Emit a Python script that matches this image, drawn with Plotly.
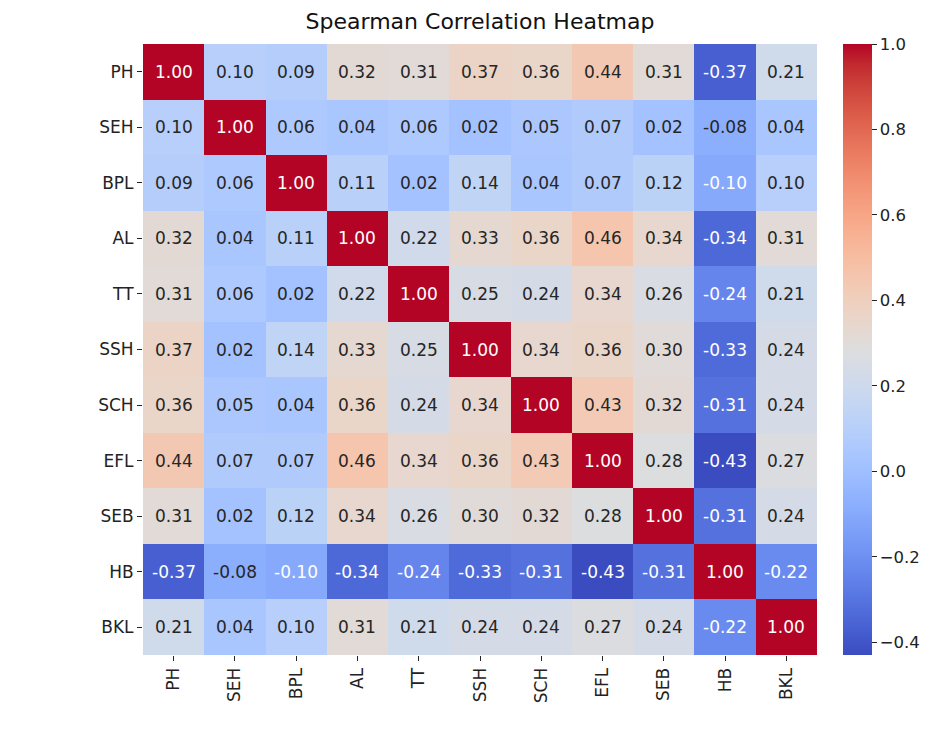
import plotly.graph_objects as go

labels = ["PH", "SEH", "BPL", "AL", "TT", "SSH", "SCH", "EFL", "SEB", "HB", "BKL"]

row_PH  = [1.00, 0.10, 0.09, 0.32, 0.31, 0.37, 0.36, 0.44, 0.31, -0.37, 0.21]
row_SEH = [0.10, 1.00, 0.06, 0.04, 0.06, 0.02, 0.05, 0.07, 0.02, -0.08, 0.04]
row_BPL = [0.09, 0.06, 1.00, 0.11, 0.02, 0.14, 0.04, 0.07, 0.12, -0.10, 0.10]
row_AL  = [0.32, 0.04, 0.11, 1.00, 0.22, 0.33, 0.36, 0.46, 0.34, -0.34, 0.31]
row_TT  = [0.31, 0.06, 0.02, 0.22, 1.00, 0.25, 0.24, 0.34, 0.26, -0.24, 0.21]
row_SSH = [0.37, 0.02, 0.14, 0.33, 0.25, 1.00, 0.34, 0.36, 0.30, -0.33, 0.24]
row_SCH = [0.36, 0.05, 0.04, 0.36, 0.24, 0.34, 1.00, 0.43, 0.32, -0.31, 0.24]
row_EFL = [0.44, 0.07, 0.07, 0.46, 0.34, 0.36, 0.43, 1.00, 0.28, -0.43, 0.27]
row_SEB = [0.31, 0.02, 0.12, 0.34, 0.26, 0.30, 0.32, 0.28, 1.00, -0.31, 0.24]
row_HB  = [-0.37, -0.08, -0.10, -0.34, -0.24, -0.33, -0.31, -0.43, -0.31, 1.00, -0.22]
row_BKL = [0.21, 0.04, 0.10, 0.31, 0.21, 0.24, 0.24, 0.27, 0.24, -0.22, 1.00]

colorbar_ticks = [-0.4, -0.2, 0.0, 0.2, 0.4, 0.6, 0.8, 1.0]
colorbar_labels = ["−0.4", "−0.2", "0.0", "0.2", "0.4", "0.6", "0.8", "1.0"]

matrix = [row_PH, row_SEH, row_BPL, row_AL, row_TT, row_SSH, row_SCH,
          row_EFL, row_SEB, row_HB, row_BKL]

# matplotlib "coolwarm" samples
cw = [
    (59, 76, 192), (68, 90, 204), (77, 104, 215), (87, 117, 225), (98, 130, 234),
    (108, 142, 241), (119, 154, 247), (130, 165, 251), (141, 176, 254),
    (152, 185, 255), (163, 194, 255), (174, 201, 253), (184, 208, 249),
    (194, 213, 244), (204, 217, 238), (213, 219, 230), (221, 221, 221),
    (229, 216, 209), (236, 211, 197), (241, 204, 184), (245, 196, 172),
    (247, 187, 159), (247, 177, 147), (247, 166, 134), (244, 154, 123),
    (241, 141, 111), (236, 127, 99), (229, 112, 88), (222, 96, 77),
    (213, 80, 66), (203, 62, 56), (192, 40, 47), (180, 4, 38),
]
n = len(cw) - 1
colorscale = [[i / n, "rgb(%d,%d,%d)" % c] for i, c in enumerate(cw)]

zmin = min(min(r) for r in matrix)
zmax = 1.0


def color_at(v):
    t = (v - zmin) / (zmax - zmin)
    t = max(0.0, min(1.0, t))
    f = t * n
    i = min(int(f), n - 1)
    a = f - i
    return tuple(cw[i][k] + (cw[i + 1][k] - cw[i][k]) * a for k in range(3))


def lum(c):
    out = []
    for ch in c:
        s = ch / 255.0
        out.append(s / 12.92 if s <= 0.03928 else ((s + 0.055) / 1.055) ** 2.4)
    return 0.2126 * out[0] + 0.7152 * out[1] + 0.0722 * out[2]


FONT = "DejaVu Sans"

fig = go.Figure()
fig.add_trace(go.Heatmap(
    z=matrix, x=labels, y=labels,
    zmin=zmin, zmax=zmax,
    colorscale=colorscale,
    xgap=0, ygap=0,
    colorbar=dict(
        thickness=29, len=1.0, lenmode="fraction",
        x=1.0386, xanchor="left", xpad=0,
        y=0.5, yanchor="middle", ypad=0,
        outlinewidth=0,
        tickvals=colorbar_ticks,
        ticktext=colorbar_labels,
        ticks="outside", ticklen=5, tickwidth=1, tickcolor="#222",
        tickfont=dict(family=FONT, size=16.5, color="#222"),
    ),
))

for i, row in enumerate(matrix):
    for j, v in enumerate(row):
        col = "white" if lum(color_at(v)) <= 0.408 else "#262626"
        fig.add_annotation(
            x=labels[j], y=labels[i], text="%.2f" % v, showarrow=False,
            font=dict(family=FONT, size=17, color=col),
        )

fig.update_layout(
    width=943, height=734,
    margin=dict(l=135, r=134, t=36, b=87),
    paper_bgcolor="white", plot_bgcolor="white",
    title=dict(text="Spearman Correlation Heatmap", x=0.5, xanchor="center",
               xref="paper", y=0.982, yanchor="middle",
               font=dict(family=FONT, size=22, color="#111")),
    font=dict(family=FONT, color="#222"),
)
fig.update_xaxes(
    tickangle=-90, ticks="outside", ticklen=5, tickcolor="#222",
    tickfont=dict(family=FONT, size=17, color="#222"),
    showgrid=False, zeroline=False, showline=False,
)
fig.update_yaxes(
    autorange="reversed", ticks="outside", ticklen=5, tickcolor="#222",
    tickfont=dict(family=FONT, size=17, color="#222"),
    showgrid=False, zeroline=False, showline=False,
)

fig.write_html("out.html")
